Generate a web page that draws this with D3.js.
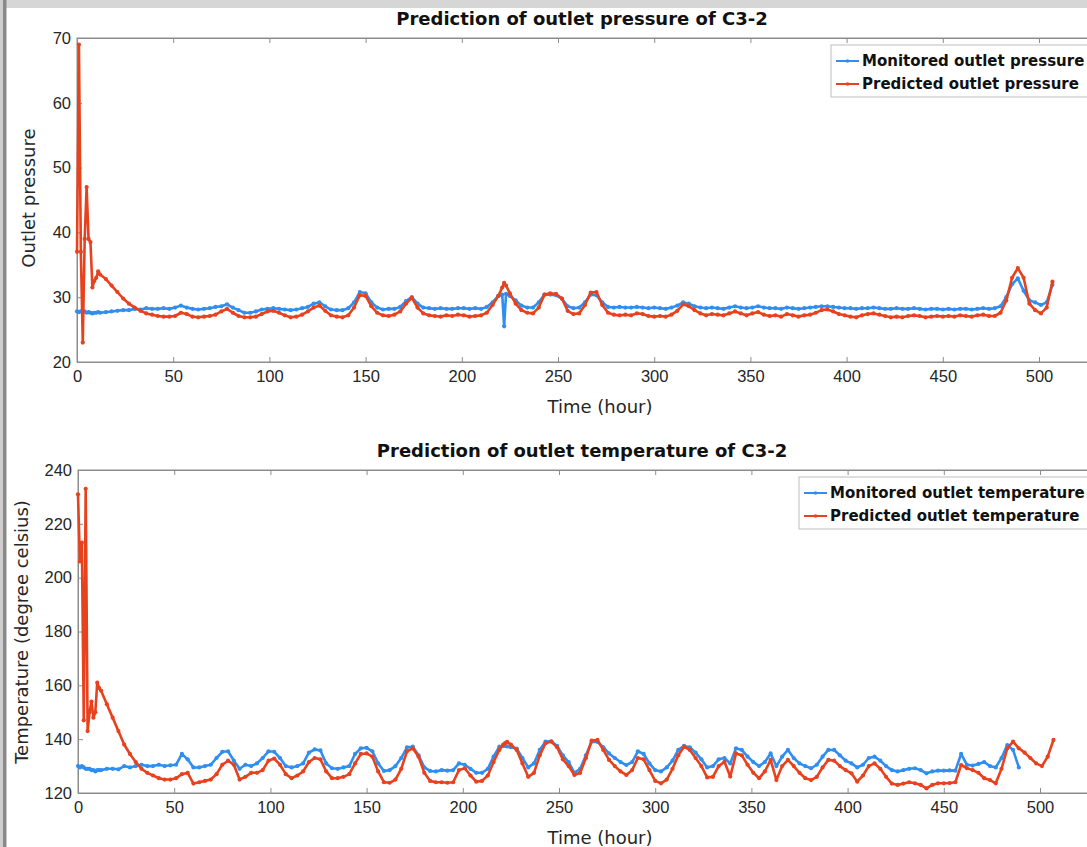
<!DOCTYPE html>
<html>
<head>
<meta charset="utf-8">
<script src="https://cdn.jsdelivr.net/npm/d3@7"></script>
<style>
  body { margin: 0; background: #fff; }
  svg { display: block; font-family: "DejaVu Sans", "Liberation Sans", Arial, sans-serif; }
  .axis text { fill: #262626; font-size: 16.5px; }
  .axis line, .axis path { stroke: #8c8c8c; }
  .title { font-weight: bold; font-size: 18px; fill: #111; }
  .axis-label { font-size: 18px; fill: #262626; }
  .legend text { font-weight: bold; font-size: 15px; fill: #111; }
</style>
</head>
<body>
<div id="chart"></div>
<script>
const width = 1087, height = 847;

// sample times (hour)
const hours = [0,1,2,3,4,5,6,7,8,9,10,11,12,
  15,18,21,24,27,30,33,36,39,42,45,48,51,54,57,60,63,66,69,72,75,78,81,84,87,90,93,96,99,102,
  105,108,111,114,117,120,123,126,129,132,135,138,141,144,147,150,153,156,159,162,165,168,171,174,177,180,
  183,186,189,192,195,198,201,204,207,210,213,216,219,221,222,223,225,228,231,234,237,240,243,246,249,252,255,258,
  261,264,267,270,273,276,279,282,285,288,291,294,297,300,303,306,309,312,315,318,321,324,327,330,333,336,
  339,342,345,348,351,354,357,360,363,366,369,372,375,378,381,384,387,390,393,396,399,402,405,408,411,414,
  417,420,423,426,429,432,435,438,441,444,447,450,453,456,459,462,465,468,471,474,477,480,483,486,489,492,
  495,498,501,504,507];

const pressureMonitored = [27.8,27.7,27.8,27.7,27.8,27.6,27.7,27.6,27.5,27.6,27.6,27.7,27.6,
  27.7,27.8,27.9,28.0,28.0,28.2,28.1,28.3,28.2,28.2,
  28.3,28.2,28.4,28.7,28.4,28.2,28.1,28.2,28.3,28.5,
  28.6,28.9,28.4,28.0,27.6,27.6,27.8,28.1,28.2,28.3,
  28.2,28.1,28.0,28.1,28.3,28.5,29.0,29.2,28.6,28.1,
  28.0,28.0,28.3,29.2,30.8,30.6,29.2,28.4,28.1,28.2,
  28.2,28.5,29.4,30.0,29.0,28.4,28.3,28.2,28.3,28.2,
  28.2,28.3,28.3,28.2,28.3,28.2,28.5,29.2,30.2,30.4,25.5,30.5,
  30.2,29.5,28.7,28.4,28.4,29.2,30.4,30.4,30.3,29.8,
  28.6,28.3,28.4,29.2,30.4,30.3,29.2,28.5,28.4,28.5,
  28.4,28.4,28.5,28.4,28.3,28.4,28.3,28.2,28.4,28.7,
  29.2,29.0,28.6,28.4,28.3,28.4,28.3,28.2,28.4,28.6,
  28.4,28.3,28.4,28.6,28.4,28.3,28.3,28.2,28.4,28.3,
  28.2,28.3,28.4,28.5,28.6,28.6,28.5,28.4,28.3,28.3,
  28.2,28.3,28.3,28.4,28.3,28.2,28.2,28.3,28.2,28.2,
  28.3,28.2,28.1,28.2,28.2,28.1,28.2,28.1,28.2,28.2,
  28.1,28.2,28.3,28.2,28.3,28.6,30.0,32.0,32.9,31.0,
  29.5,29.2,28.8,29.2,31.9];

const pressurePredicted = [37,69,37,23,39,47,39,38.5,31.5,32.5,33,34,33.5,
  32.8,31.8,30.8,29.8,29.0,28.4,27.9,27.5,27.3,27.1,
  27.0,27.0,27.1,27.6,27.4,27.0,26.9,27.0,27.1,27.3,
  27.8,28.2,27.6,27.1,26.9,26.9,27.0,27.4,27.8,27.9,
  27.6,27.2,26.9,27.0,27.3,27.8,28.4,28.7,27.9,27.2,
  27.0,26.9,27.2,28.4,30.3,30.2,28.6,27.6,27.2,27.1,
  27.3,27.8,29.0,29.9,28.4,27.5,27.2,27.1,27.0,27.2,
  27.1,27.3,27.2,27.0,27.1,27.2,27.6,28.8,30.2,31.5,32.2,31.8,
  30.6,29.0,28.0,27.6,27.5,28.4,30.4,30.6,30.5,29.8,
  27.9,27.4,27.5,28.8,30.7,30.8,28.8,27.6,27.3,27.2,
  27.3,27.2,27.5,27.4,27.1,27.0,27.1,27.0,27.3,27.9,
  28.9,28.6,28.0,27.5,27.2,27.4,27.3,27.2,27.5,27.8,
  27.5,27.2,27.5,27.7,27.3,27.1,27.2,27.0,27.4,27.2,
  27.0,27.2,27.3,27.6,28.0,28.1,27.8,27.4,27.2,27.0,
  26.9,27.2,27.4,27.5,27.3,27.1,26.9,27.0,26.9,27.1,
  27.2,27.1,26.9,27.0,27.1,27.0,27.1,27.0,27.2,27.1,
  27.0,27.2,27.3,27.1,27.1,27.6,29.5,33.0,34.5,33.0,
  29.0,28.0,27.5,28.4,32.4];

const temperatureMonitored = [130,129.5,130,129.5,129,129,129,128.5,128.5,128,128.5,128.5,128.5,
  129,129,128.8,130,129.5,130,130.5,130,130,130.5,
  130,130.3,130.5,134.5,132.5,129.5,129.5,130,130.5,133,
  135.3,135.5,132,129,130.5,130,131,133,135.5,135.3,
  133,130,129.5,130,131,135,136.2,135.8,131,129.2,
  129,129.5,130,134.5,136.6,136.8,135.5,131,128.2,128.5,
  130,133,137,137.2,134,129.5,128.2,128,128.5,128.3,
  128.5,131,130.5,129,127.5,127.5,129,133.5,137.2,137.5,137.5,137.3,
  137,136.5,133,129.5,131,136,139.1,139.2,137.5,134,
  131.5,127.5,129,134,139.1,139,137,134.7,133,131.5,
  130.4,131.5,135.5,134.5,131,128.5,128,129.5,132,136,
  137.5,137,135,132.5,129.5,130,132.5,133,131,136.6,
  136,133.5,131.5,130,131.5,134.7,130,133.5,136,133,
  131,130,129.2,130.5,133.5,136,136,134,132,131,
  129.5,130.5,133,133.5,132,130,128.5,128,128.5,129,
  129.2,128.5,127.3,128,128.3,128.3,128.4,128.3,134.5,130.5,
  130.2,130.8,131.5,130,129.5,133,137.8,136,129.5];

const temperaturePredicted = [231,206,213,147,233,143,150,154,148,150,161,159,158,
  153,148,143,138,134.5,131.5,129,127.5,126.5,125.5,
  125,125,125.5,127,127.5,123.5,124,124.5,125,127,
  130.5,132,130.5,125,126,127.5,127.5,128.5,132,132.8,
  130.5,127,125.5,126.5,128,131.5,133,132.5,128,125.5,
  125.5,126,127,131,134.5,134.7,133.5,128,124,123.8,
  125,129,135.5,136.6,133.5,127.5,124.5,124,124,123.8,
  124,128.5,129.2,126.5,124.2,124.5,126.5,131.5,136,138,138.5,139,
  138,136,131,126,127.5,134,138.5,139.1,137,132.5,
  130,126.7,127.5,133,139.5,139.7,136,132.3,130,128,
  126.7,128.5,133,132.5,128.5,124.5,123.6,125,129,134,
  137.2,136,133,130,125.8,126,130,131.6,126.1,134.7,
  134,130.5,127.5,125.5,128,132.3,124.8,130,132.3,130,
  127.5,125.5,124.8,126,129.5,132.3,132,130,128.5,127.3,
  124.2,126.5,130,131,129,126,123.5,123,123.5,124,
  123.6,123,121.7,123,123.6,123.6,123.7,124,130.4,129.2,
  128.5,127.5,125.5,124.8,123.6,129,136.6,139.1,136.6,135,
  133,131,130,133.5,139.7];

const xTicks = [0,50,100,150,200,250,300,350,400,450,500];
const pressureTicks = [20,30,40,50,60,70];
const temperatureTicks = [120,140,160,180,200,220,240];

const seriesColors = { monitored: "#2f8ef0", predicted: "#e8411e" };

const svg = d3.select("#chart")
  .append("svg")
  .attr("width", width)
  .attr("height", height);

// page frame (grey bands on top and left of the original figure)
svg.append("rect").attr("x", 0).attr("y", 0).attr("width", width).attr("height", 8).attr("fill", "#d6d6d6");
svg.append("rect").attr("x", 0).attr("y", 0).attr("width", 3).attr("height", height).attr("fill", "#cfcfcf");
svg.append("rect").attr("x", 3).attr("y", 0).attr("width", 3.5).attr("height", height).attr("fill", "#8a8a8a");

const drawPanel = (p) => {
  const x = d3.scaleLinear().domain([0, 530]).range([p.left, p.left + 530 * 1.924]);
  const y = d3.scaleLinear().domain(p.yDomain).range([p.bottom, p.top]);
  const g = svg.append("g");

  // box
  g.append("rect")
    .attr("x", p.left).attr("y", p.top)
    .attr("width", x(530) - p.left).attr("height", p.bottom - p.top)
    .attr("fill", "none").attr("stroke", "#8c8c8c");

  g.append("g").attr("class", "axis")
    .attr("transform", `translate(0,${p.bottom})`)
    .call(d3.axisBottom(x).tickValues(xTicks).tickSizeInner(-5).tickSizeOuter(0).tickPadding(8));
  g.append("g").attr("class", "axis")
    .attr("transform", `translate(0,${p.top})`)
    .call(d3.axisTop(x).tickValues(xTicks).tickSizeInner(-5).tickSizeOuter(0).tickFormat(""));
  g.append("g").attr("class", "axis")
    .attr("transform", `translate(${p.left},0)`)
    .call(d3.axisLeft(y).tickValues(p.yTicks).tickSizeInner(-5).tickSizeOuter(0).tickPadding(6));

  // series
  p.series.forEach(s => {
    const pts = s.values.map((v, i) => [hours[i], v]);
    const line = d3.line().x(d => x(d[0])).y(d => y(d[1]));
    g.append("path")
      .datum(pts)
      .attr("d", line)
      .attr("fill", "none")
      .attr("stroke", s.color)
      .attr("stroke-width", 2.6)
      .attr("stroke-linejoin", "round");
    g.append("g").selectAll("circle")
      .data(pts)
      .join("circle")
      .attr("cx", d => x(d[0]))
      .attr("cy", d => y(d[1]))
      .attr("r", 2.1)
      .attr("fill", s.color);
  });

  // titles and labels
  svg.append("text").attr("class", "title")
    .attr("x", 582).attr("y", p.top - 13)
    .attr("text-anchor", "middle").text(p.title);
  svg.append("text").attr("class", "axis-label")
    .attr("x", 600).attr("y", p.bottom + 51)
    .attr("text-anchor", "middle").text("Time (hour)");
  svg.append("text").attr("class", "axis-label")
    .attr("transform", `translate(${p.yLabelX},${p.yLabelY}) rotate(-90)`)
    .attr("text-anchor", "middle").text(p.yLabel);

  // legend
  const legend = svg.append("g").attr("class", "legend")
    .attr("transform", `translate(${p.legendX},${p.top + 7})`);
  legend.append("rect")
    .attr("width", 300).attr("height", 52)
    .attr("fill", "#fff").attr("stroke", "#bdbdbd");
  p.series.forEach((s, i) => {
    const row = legend.append("g").attr("transform", `translate(5,${16 + i * 23})`);
    row.append("line").attr("x1", 0).attr("x2", 23)
      .attr("stroke", s.color).attr("stroke-width", 2);
    row.append("circle").attr("cx", 11.5).attr("r", 1.8).attr("fill", s.color);
    row.append("text").attr("x", 26).attr("dy", "0.35em").text(s.name);
  });
};

drawPanel({
  left: 77, top: 38, bottom: 362,
  yDomain: [20, 70], yTicks: pressureTicks,
  title: "Prediction of outlet pressure of C3-2",
  yLabel: "Outlet pressure", yLabelX: 35, yLabelY: 198,
  legendX: 831,
  series: [
    { name: "Monitored outlet pressure", values: pressureMonitored, color: seriesColors.monitored },
    { name: "Predicted outlet pressure", values: pressurePredicted, color: seriesColors.predicted }
  ]
});

drawPanel({
  left: 78, top: 470, bottom: 793,
  yDomain: [120, 240], yTicks: temperatureTicks,
  title: "Prediction of outlet temperature of C3-2",
  yLabel: "Temperature (degree celsius)", yLabelX: 28, yLabelY: 632,
  legendX: 799,
  series: [
    { name: "Monitored outlet temperature", values: temperatureMonitored, color: seriesColors.monitored },
    { name: "Predicted outlet temperature", values: temperaturePredicted, color: seriesColors.predicted }
  ]
});
</script>
</body>
</html>
